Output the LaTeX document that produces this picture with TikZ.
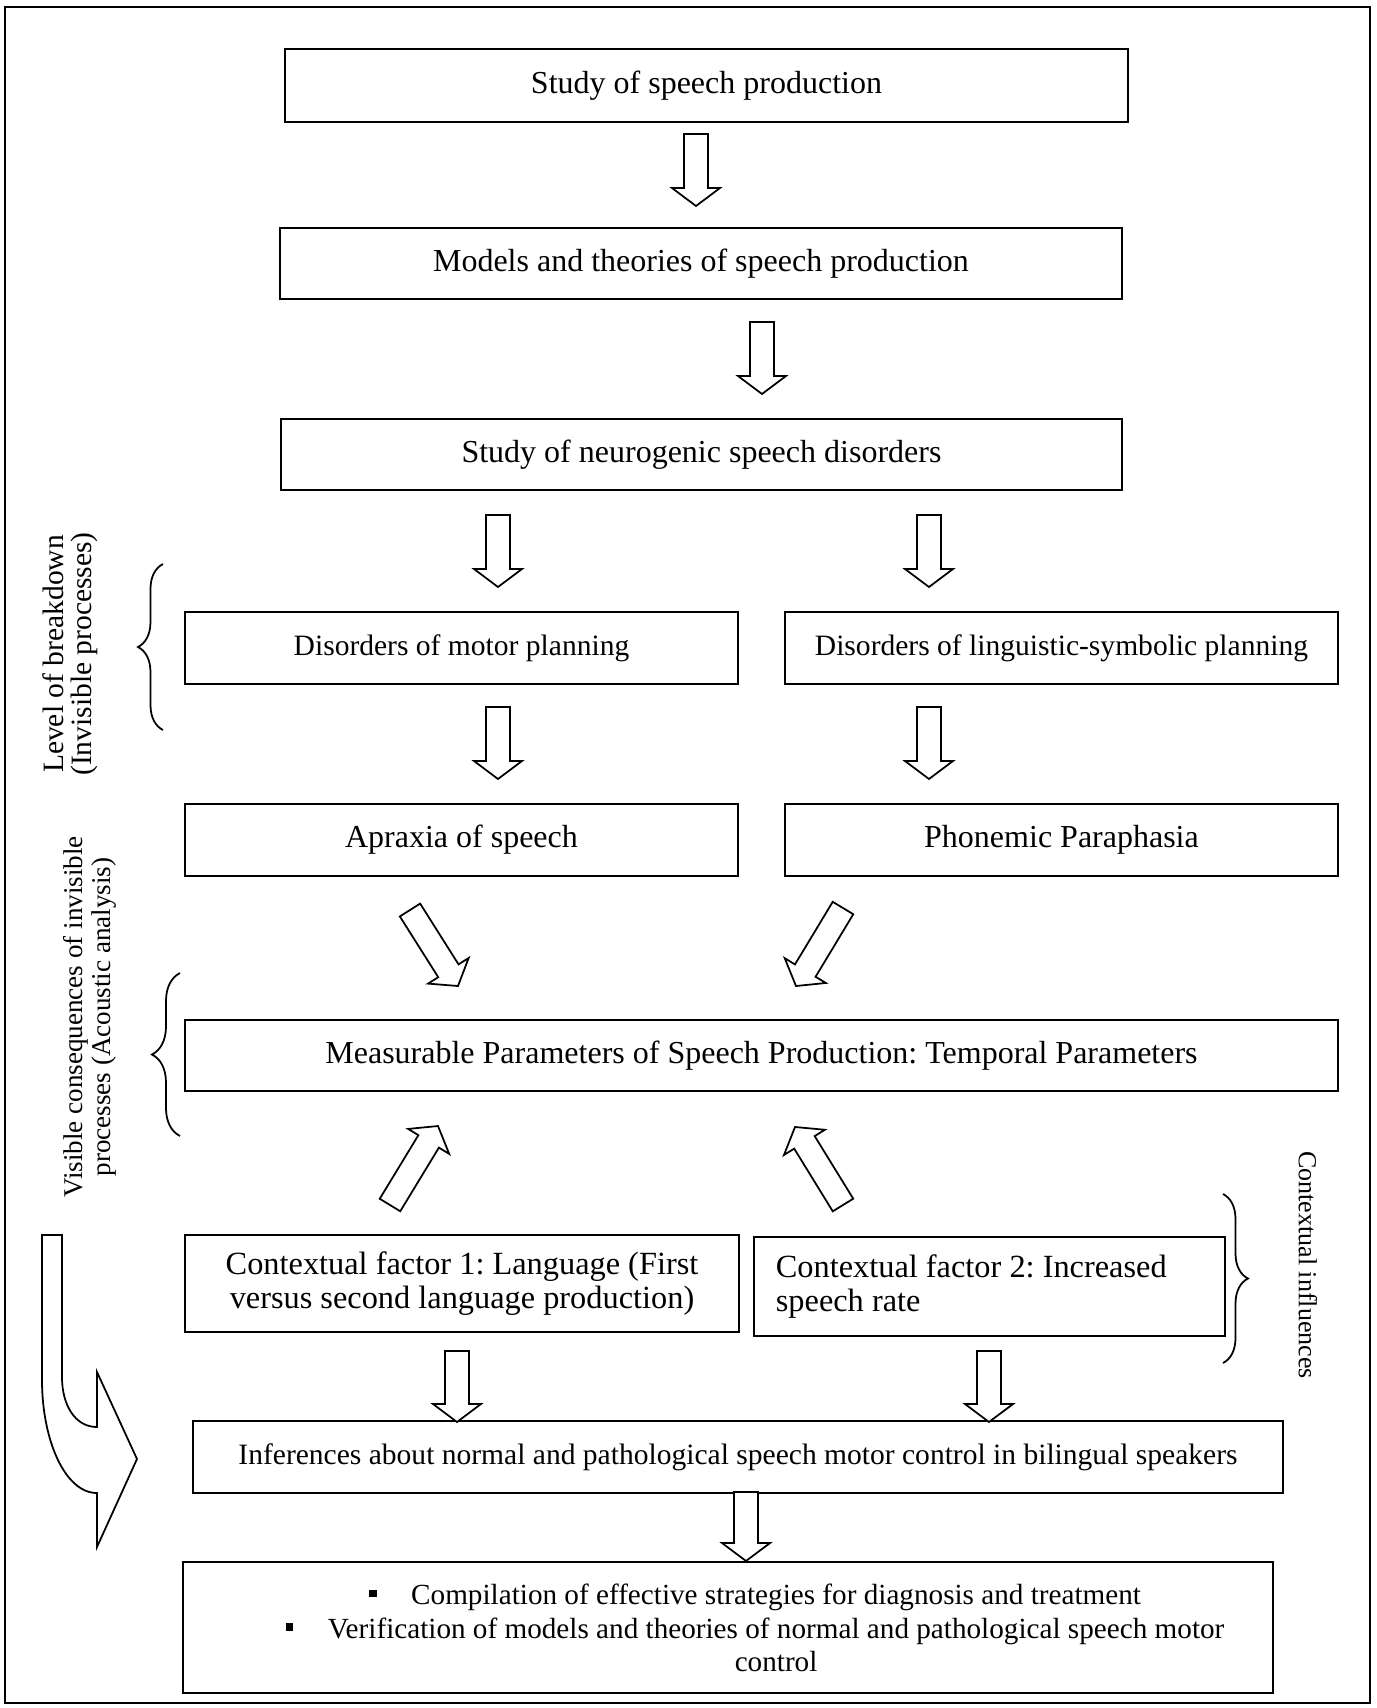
\documentclass[tikz,border=0pt]{standalone}
\usepackage{fontspec}
\setmainfont{Liberation Serif}
\frenchspacing
\usetikzlibrary{calc,decorations.pathreplacing}

% hollow block arrow from #1 (tail) to #2 (tip)
\newcommand{\bigarrow}[2]{%
  \coordinate (ba-a) at (#1);
  \coordinate (ba-b) at (#2);
  \coordinate (ba-c) at ($(ba-b)!0.18cm!(ba-a)$);
  \draw[blockarrow] ($(ba-a)!0.12cm!90:(ba-b)$) -- ($(ba-c)!0.12cm!90:(ba-b)$)
    -- ($(ba-c)!0.24cm!90:(ba-b)$) -- (ba-b) -- ($(ba-c)!0.24cm!-90:(ba-b)$)
    -- ($(ba-c)!0.12cm!-90:(ba-b)$) -- ($(ba-a)!0.12cm!-90:(ba-b)$) -- cycle;
}

\begin{document}
\begin{tikzpicture}[
    x=0.01cm, y=-0.01cm,
    box/.style={rectangle, draw=black, line width=0.6pt, inner sep=0pt, font=\fontsize{9.1}{11}\selectfont},
    smallbox/.style={box, font=\fontsize{8.4}{10}\selectfont},
    ctxbox/.style={box, font=\fontsize{9.2}{9.6}\selectfont},
    blockarrow/.style={draw=black, line width=0.5pt, fill=white, line join=miter},
    sidetext/.style={font=\fontsize{8.4}{8}\selectfont, align=flush center, inner sep=0pt},
    curly/.style={draw=black, line width=0.5pt, decorate, decoration={brace, amplitude=#1}}
  ]
  \useasboundingbox (0,0) rectangle (1377,1708);
  % outer frame
  \draw[line width=0.8pt] (5,7) rectangle (1370,1703);

  % main column
  \node[box, minimum width=8.43cm, minimum height=0.73cm] (study) at (706.5,85.5) {Study of speech production};
  \node[box, minimum width=8.42cm, minimum height=0.71cm] (models) at (701,263.5) {Models and theories of speech production};
  \node[box, minimum width=8.41cm, minimum height=0.71cm] (neuro) at (701.5,454.5) {Study of neurogenic speech disorders};

  % two branches
  \node[smallbox, minimum width=5.53cm, minimum height=0.72cm] (motor) at (461.5,648) {Disorders of motor planning};
  \node[smallbox, minimum width=5.53cm, minimum height=0.72cm] (ling) at (1061.5,648) {Disorders of linguistic-symbolic planning};
  \node[box, minimum width=5.53cm, minimum height=0.72cm] (apraxia) at (461.5,840) {Apraxia of speech};
  \node[box, minimum width=5.53cm, minimum height=0.72cm] (phonemic) at (1061.5,840) {Phonemic Paraphasia};

  \node[box, minimum width=11.53cm, minimum height=0.71cm] (params) at (761.5,1055.5) {Measurable Parameters of Speech Production: Temporal Parameters};

  % contextual factors
  \node[ctxbox, minimum width=5.54cm, minimum height=0.97cm, align=flush center] (lang) at (462,1283.5) {Contextual factor 1: Language (First\\versus second language production)};
  \node[ctxbox, text width=4.27cm, inner xsep=0.22cm, minimum height=0.99cm, align=flush left] (rate) at (989.5,1286.5) {Contextual factor 2: Increased\\speech rate};

  \node[box, minimum width=10.9cm, minimum height=0.72cm, font=\fontsize{8.4}{10}\selectfont] (infer) at (738,1457) {Inferences about normal and pathological speech motor control in bilingual speakers};

  \node[box, minimum width=10.9cm, minimum height=1.31cm] (concl) at (728,1627.5) {};
  \node[align=flush center, inner sep=0pt, font=\fontsize{8.3}{9.5}\selectfont] (concltext) at (755,1628) {%
    \rule[0.25em]{2.2pt}{2.2pt}\hspace{9.8pt}Compilation of effective strategies for diagnosis and treatment\\
    \rule[0.25em]{2.2pt}{2.2pt}\hspace{9.8pt}Verification of models and theories of normal and pathological speech motor\\
    \hspace*{12pt}control};

  % block arrows straight down
  \foreach \ax/\ay/\by in {696/134/206, 762/322/394, 498/515/587, 929/515/587,
      498/707/779, 929/707/779, 457/1351/1422, 989/1351/1422, 746/1492/1561} {
    \bigarrow{\ax,\ay}{\ax,\by}
  }
  % diagonal block arrows
  \bigarrow{410,910}{458,986}
  \bigarrow{843,908}{796,986}
  \bigarrow{390,1205}{438,1126}
  \bigarrow{843,1205}{795,1127}

  % curved arrow on the left
  \draw[blockarrow] (42,1235) -- (62,1235) -- (62,1377)
    .. controls (62,1405) and (75,1427) .. (97,1427) -- (97,1372) -- (137,1459)
    -- (97,1547) -- (97,1493) .. controls (65,1493) and (42,1440) .. (42,1380) -- cycle;

  % braces
  \draw[curly=0.25cm] (163,730) -- (163,564);
  \draw[curly=0.28cm] (180,1136) -- (180,973);
  \draw[curly=0.25cm] (1223,1194) -- (1223,1363);

  % side labels
  \node[sidetext, rotate=90] (levellbl) at (70,654) {Level of breakdown\\(Invisible processes)};
  \node[sidetext, rotate=90, font=\fontsize{7.7}{8}\selectfont] (visiblelbl) at (90,1017) {Visible consequences of invisible\\processes (Acoustic analysis)};
  \node[sidetext, rotate=-90, font=\fontsize{7.4}{8}\selectfont] (ctxlbl) at (1308,1265) {Contextual influences};
\end{tikzpicture}
\end{document}
